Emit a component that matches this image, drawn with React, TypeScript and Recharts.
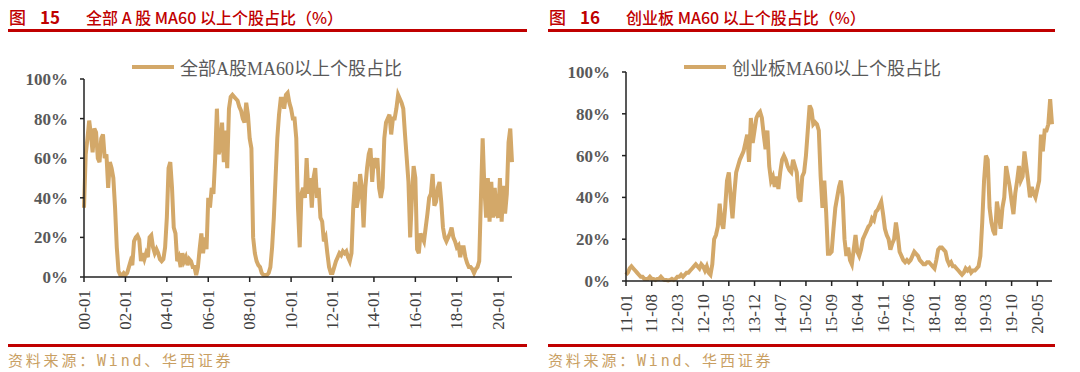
import React from "react";
import { LineChart, Line, XAxis, YAxis, Legend } from "recharts";

// 全部A股：2000-01 起，月度
const allAShare = [
  35, 62, 70, 79, 72, 63, 75, 73, 60, 58, 70, 72,
  60, 62, 45, 58, 55, 50, 35, 15, 3, 1, 1, 2,
  1, 2, 5, 8, 6, 18, 20, 21, 19, 8, 12, 9,
  12, 10, 20, 21, 15, 12, 14, 12, 9, 8, 9, 15,
  30, 55, 58, 45, 25, 22, 8, 10, 5, 12, 8, 10,
  6, 9, 8, 5, 5, 1, 5, 14, 22, 12, 20, 14,
  40, 35, 45, 42, 60, 85, 62, 65, 78, 58, 74, 55,
  85, 91, 92, 91, 90, 89, 86, 84, 80, 78, 88, 82,
  70, 65, 20, 12, 8, 6, 5, 2, 1, 1, 1, 2,
  5, 15, 30, 50, 70, 82, 90, 90, 85, 92, 93, 88,
  85, 80, 80, 70, 35, 15, 42, 45, 40, 60, 42, 50,
  35, 50, 55, 40, 45, 30, 28, 18, 20, 12, 5, 2,
  2, 5, 8, 10, 12, 11, 13, 12, 13, 10, 8, 12,
  35, 48, 35, 40, 52, 45, 25, 45, 55, 62, 65, 48,
  60, 55, 60, 45, 40, 45, 70, 78, 80, 82, 72, 80,
  80, 85, 92, 90, 88, 85, 72, 60, 48, 20, 40, 56,
  50, 14, 12, 22, 20, 18, 25, 32, 40, 42, 52, 36,
  38, 45, 48, 38, 25, 20, 18, 20, 22, 25, 20, 18,
  15, 16, 10, 15, 15, 10, 7, 5, 5, 4, 2, 4,
  5, 8, 40, 70, 45, 30, 50, 28, 48, 30, 45, 32,
  30, 50, 28, 46, 32, 42, 68, 75, 58,
];

// 创业板：2011-01 起，半月
const chinextShare = [
  3, 4, 6, 7, 6, 5, 4, 3, 2, 2, 1, 1, 1, 2, 1, 1, 0.5, 1, 1, 2, 1, 0.5, 0.5, 0.3,
  0.5, 1, 0.5, 1, 2, 2, 3, 2, 3, 4, 4, 5, 6, 7, 8, 7, 6, 8, 7, 5, 7, 4, 3, 8,
  20, 22, 26, 37, 28, 25, 35, 48, 52, 40, 30, 42, 52, 55, 58, 60, 62, 66, 70, 57, 78, 66, 72, 78,
  80, 81, 78, 70, 63, 72, 55, 48, 50, 45, 50, 44, 52, 58, 60, 58, 55, 53, 52, 58, 55, 52, 40, 38,
  50, 52, 60, 72, 84, 82, 75, 76, 75, 72, 50, 35, 48, 33, 13, 13, 14, 25, 35, 40, 45, 48, 40, 20,
  12, 16, 10, 8, 15, 22, 14, 12, 15, 20, 22, 24, 26, 27, 30, 29, 33, 34, 36, 38, 32, 25, 22, 20,
  15, 18, 20, 28, 22, 14, 12, 10, 9, 10, 9, 10, 12, 14, 13, 12, 10, 9, 8, 8, 9, 9, 8, 7,
  6, 10, 15, 16, 16, 15, 14, 10, 8, 9, 7, 7, 6, 5, 4, 3, 4, 6, 5, 6, 4, 5, 5, 6,
  7, 12, 28, 48, 60, 58, 35, 28, 24, 22, 38, 32, 25, 35, 40, 55, 50, 45, 38, 32, 42, 48, 55, 48,
  50, 62, 55, 48, 40, 45, 42, 40, 44, 48, 70, 62, 72, 72, 75, 87, 75,
];

const allATicks = ["00-01", "02-01", "04-01", "06-01", "08-01", "10-01", "12-01", "14-01", "16-01", "18-01", "20-01"];
const chinextTicks = ["11-01", "11-08", "12-03", "12-10", "13-05", "13-12", "14-07", "15-02", "15-09", "16-04", "16-11", "17-06", "18-01", "18-08", "19-03", "19-10", "20-05"];
const pctTicks = [0, 20, 40, 60, 80, 100];

const two = (n: number) => String(n).padStart(2, "0");

// 每月 perMonth 个点；每月第一个点的标签为 "YY-MM"
function monthCats(startYear: number, count: number, perMonth: number) {
  const out: string[] = [];
  for (let i = 0; i < count; i++) {
    const m = Math.floor(i / perMonth);
    const label = `${two((startYear + Math.floor(m / 12)) % 100)}-${two((m % 12) + 1)}`;
    out.push(i % perMonth === 0 ? label : `${label}-${i % perMonth}`);
  }
  return out;
}

const allAData = monthCats(2000, allAShare.length, 1).map((d, i) => ({ d, v: allAShare[i] }));
const chinextData = monthCats(2011, chinextShare.length, 2).map((d, i) => ({ d, v: chinextShare[i] }));

const LINE = "#D3A869";
const RED = "#C00000";
const GREY = "#595959";
const SERIF = '"Liberation Serif", "Times New Roman", serif';
const SERIF_CJK = '"Liberation Serif", "Noto Sans CJK SC", serif';
const SANS_CJK = '"Noto Sans CJK SC", "Noto Sans", sans-serif';
const MONO_CJK = '"DejaVu Sans Mono", "Noto Sans CJK SC", monospace';

const RotTick = (props: any) => {
  const { x, y, payload } = props;
  const ty = y + 6;
  return (
    <text
      x={x}
      y={ty}
      transform={`rotate(-90 ${x} ${ty})`}
      textAnchor="end"
      dominantBaseline="central"
      fontFamily={SERIF}
      fontSize={17}
      fill="#404040"
    >
      {payload.value}
    </text>
  );
};

const legendContent = (label: string) => () => (
  <div style={{ display: "flex", alignItems: "center", whiteSpace: "nowrap" }}>
    <span style={{ display: "inline-block", width: 42, height: 4, background: LINE, marginRight: 6 }} />
    <span style={{ fontFamily: SERIF_CJK, fontSize: 18, color: GREY }}>{label}</span>
  </div>
);

interface PanelProps {
  left: number;
  width: number;
  fig: string;
  title: string;
  legend: string;
  legendLeft: number;
  data: { d: string; v: number }[];
  ticks: string[];
  axisX: number;
  plotTop: number;
  plotBottom: number;
  plotRight: number;
}

function Panel(p: PanelProps) {
  const chartW = 540;
  const chartH = 372;
  return (
    <div style={{ position: "absolute", left: p.left, top: 0, width: chartW, height: chartH }}>
      <LineChart
        width={chartW}
        height={chartH}
        data={p.data}
        margin={{ top: p.plotTop, left: 0, right: chartW - p.plotRight, bottom: chartH - p.plotBottom - 60 }}
      >
        <XAxis
          dataKey="d"
          ticks={p.ticks}
          interval={0}
          height={60}
          tick={<RotTick />}
          tickSize={5}
          axisLine={{ stroke: "#222", strokeWidth: 1.5 }}
          tickLine={{ stroke: "#222", strokeWidth: 1.5 }}
        />
        <YAxis
          domain={[0, 100]}
          ticks={pctTicks}
          width={p.axisX}
          tickFormatter={(v: number) => `${v}%`}
          tickSize={4}
          tickMargin={12}
          tick={{ fontFamily: SERIF, fontSize: 17, fontWeight: 700, fill: GREY }}
          axisLine={{ stroke: "#222", strokeWidth: 1.5 }}
          tickLine={{ stroke: "#222", strokeWidth: 1.5 }}
        />
        <Legend
          verticalAlign="middle"
          align="center"
          layout="horizontal"
          content={legendContent(p.legend)}
          wrapperStyle={{ top: 54, left: p.legendLeft, width: "auto" }}
        />
        <Line
          type="linear"
          dataKey="v"
          stroke={LINE}
          strokeWidth={4}
          dot={false}
          isAnimationActive={false}
        />
      </LineChart>
      <div
        style={{
          position: "absolute",
          left: 9,
          top: 4,
          whiteSpace: "pre",
          fontFamily: SANS_CJK,
          fontWeight: 500,
          fontSize: 16,
          color: RED,
        }}
      >
        <span style={{ fontSize: 17 }}>图</span>
        <span style={{ marginLeft: 14, fontSize: 17, fontWeight: 700 }}>{p.fig}</span>
        <span style={{ marginLeft: 26 }}>{p.title}</span>
      </div>
      <div style={{ position: "absolute", left: 8, top: 29, width: p.width, height: 3, background: RED }} />
      <div style={{ position: "absolute", left: 8, top: 344, width: p.width, height: 3, background: RED }} />
      <div
        style={{
          position: "absolute",
          left: 8,
          top: 349,
          whiteSpace: "pre",
          fontFamily: MONO_CJK,
          fontSize: 15,
          letterSpacing: 2.8,
          color: "#C9A063",
        }}
      >
        资料来源：Wind、华西证券
      </div>
    </div>
  );
}

export default function App() {
  return (
    <div style={{ position: "absolute", left: 0, top: 0, width: 1080, height: 372, background: "#fff", overflow: "hidden" }}>
      <Panel
        left={0}
        width={519}
        fig="15"
        title="全部 A 股 MA60 以上个股占比（%）"
        legend="全部A股MA60以上个股占比"
        legendLeft={132}
        data={allAData}
        ticks={allATicks}
        axisX={84}
        plotTop={79}
        plotBottom={277}
        plotRight={512}
      />
      <Panel
        left={540}
        width={507}
        fig="16"
        title="创业板 MA60 以上个股占比（%）"
        legend="创业板MA60以上个股占比"
        legendLeft={144}
        data={chinextData}
        ticks={chinextTicks}
        axisX={86}
        plotTop={72}
        plotBottom={281}
        plotRight={512}
      />
    </div>
  );
}
